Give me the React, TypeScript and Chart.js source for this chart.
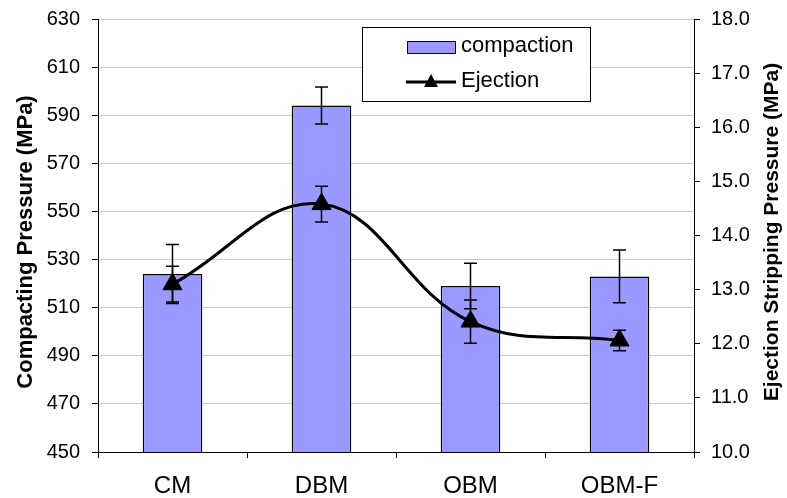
import React, { useEffect, useRef } from "react";
import { Chart, registerables } from "chart.js";

Chart.register(...registerables);

const categories = ["CM", "DBM", "OBM", "OBM-F"];
const compaction = [524, 594, 519, 523];
const compactionErr = [12.3, 7.7, 9.5, 11];
const ejection = [13.1, 14.58, 12.41, 12.06];
const ejectionErr = [0.33, 0.33, 0.4, 0.19];
const leftTicks = [450, 470, 490, 510, 530, 550, 570, 590, 610, 630];
const rightTicks = [10, 11, 12, 13, 14, 15, 16, 17, 18];

const FONT = "'Liberation Sans', Arial, sans-serif";

const errorBarPlugin = {
  id: "errorBars",
  afterDatasetsDraw(chart: any) {
    const ctx = chart.ctx;
    const x = chart.scales.x;
    const y = chart.scales.y;
    const y1 = chart.scales.y1;
    ctx.save();
    ctx.strokeStyle = "#000";
    ctx.lineWidth = 1.5;
    const drawBar = (px: number, top: number, bot: number) => {
      const cap = 6.5;
      ctx.beginPath();
      ctx.moveTo(px, top);
      ctx.lineTo(px, bot);
      ctx.moveTo(px - cap, top);
      ctx.lineTo(px + cap, top);
      ctx.moveTo(px - cap, bot);
      ctx.lineTo(px + cap, bot);
      ctx.stroke();
    };
    categories.forEach((_, i) => {
      const px = x.getPixelForValue(i);
      drawBar(
        px,
        y.getPixelForValue(compaction[i] + compactionErr[i]),
        y.getPixelForValue(compaction[i] - compactionErr[i])
      );
      drawBar(
        px,
        y1.getPixelForValue(ejection[i] + ejectionErr[i]),
        y1.getPixelForValue(ejection[i] - ejectionErr[i])
      );
    });
    ctx.restore();
  },
};

const decorPlugin = {
  id: "decor",
  afterDraw(chart: any) {
    const ctx = chart.ctx;
    ctx.save();
    // axis titles
    ctx.fillStyle = "#000";
    ctx.textAlign = "center";
    ctx.textBaseline = "alphabetic";
    ctx.font = `bold 22px ${FONT}`;
    ctx.save();
    ctx.translate(32, 242);
    ctx.rotate(-Math.PI / 2);
    ctx.fillText("Compacting Pressure (MPa)", 0, 0);
    ctx.restore();
    ctx.font = `bold 21px ${FONT}`;
    ctx.save();
    ctx.translate(778, 232);
    ctx.rotate(-Math.PI / 2);
    ctx.fillText("Ejection Stripping Pressure (MPa)", 0, 0);
    ctx.restore();

    // legend box
    const lx = 362, ly = 27, lw = 228, lh = 74;
    ctx.fillStyle = "#fff";
    ctx.fillRect(lx, ly, lw, lh);
    ctx.strokeStyle = "#000";
    ctx.lineWidth = 1;
    ctx.strokeRect(lx + 0.5, ly + 0.5, lw, lh);
    ctx.fillStyle = "#9999FF";
    ctx.fillRect(407, 41, 48, 12);
    ctx.strokeRect(407.5, 41.5, 48, 12);
    ctx.lineWidth = 3;
    ctx.beginPath();
    ctx.moveTo(406, 82);
    ctx.lineTo(456, 82);
    ctx.stroke();
    ctx.fillStyle = "#000";
    ctx.beginPath();
    ctx.moveTo(431, 74);
    ctx.lineTo(438, 87);
    ctx.lineTo(424, 87);
    ctx.closePath();
    ctx.fill();
    ctx.font = `22px ${FONT}`;
    ctx.textAlign = "left";
    ctx.textBaseline = "middle";
    ctx.fillText("compaction", 461, 46);
    ctx.fillText("Ejection", 461, 81);
    ctx.restore();
  },
};

export default function App() {
  const ref = useRef<HTMLCanvasElement | null>(null);
  useEffect(() => {
    if (!ref.current) return;
    const chart = new Chart(ref.current, {
      type: "bar",
      data: {
        labels: categories,
        datasets: [
          {
            type: "line",
            label: "Ejection",
            data: ejection,
            yAxisID: "y1",
            borderColor: "#000",
            backgroundColor: "#000",
            borderWidth: 3,
            tension: 0.4,
            pointStyle: "triangle",
            pointRadius: 11,
            pointBackgroundColor: "#000",
            pointBorderColor: "#000",
            pointBorderWidth: 1,
            order: 0,
          } as any,
          {
            type: "bar",
            label: "compaction",
            data: compaction,
            yAxisID: "y",
            backgroundColor: "#9999FF",
            borderColor: "#000",
            borderWidth: 1.5,
            barPercentage: 0.4,
            categoryPercentage: 1,
            order: 1,
          },
        ],
      },
      options: {
        animation: false,
        responsive: true,
        maintainAspectRatio: false,
        layout: { padding: { top: 19, left: 0, right: 0, bottom: 0 } },
        plugins: {
          legend: { display: false },
          tooltip: { enabled: false },
        },
        scales: {
          x: {
            offset: true,
            afterFit(s: any) {
              s.height = 46;
            },
            grid: {
              offset: true,
              drawOnChartArea: false,
              drawTicks: true,
              tickLength: 6,
              tickColor: "#000",
            },
            border: { color: "#000", width: 1 },
            ticks: {
              color: "#000",
              font: { family: FONT, size: 24 },
              padding: 14,
            },
          },
          y: {
            position: "left",
            min: 450,
            max: 630,
            afterFit(s: any) {
              s.width = 98;
            },
            afterBuildTicks(s: any) {
              s.ticks = leftTicks.map((v) => ({ value: v }));
            },
            grid: {
              color: "#c8c8c8",
              lineWidth: 1,
              tickLength: 6,
              tickColor: "#000",
            },
            border: { color: "#000", width: 1 },
            ticks: {
              color: "#000",
              font: { family: FONT, size: 20, lineHeight: 0.5 },
              padding: 12,
              callback: (v: any) => String(v),
            },
          },
          y1: {
            position: "right",
            min: 10,
            max: 18,
            afterFit(s: any) {
              s.width = 93;
            },
            afterBuildTicks(s: any) {
              s.ticks = rightTicks.map((v) => ({ value: v }));
            },
            grid: {
              drawOnChartArea: false,
              tickLength: 6,
              tickColor: "#000",
            },
            border: { color: "#000", width: 1 },
            ticks: {
              color: "#000",
              font: { family: FONT, size: 20, lineHeight: 0.5 },
              padding: 11,
              callback: (v: any) => Number(v).toFixed(1),
            },
          },
        },
      },
      plugins: [errorBarPlugin, decorPlugin],
    });
    return () => chart.destroy();
  }, []);
  return (
    <div style={{ position: "fixed", left: 0, top: 0, width: 787, height: 498, background: "#fff" }}>
      <canvas ref={ref} />
    </div>
  );
}
